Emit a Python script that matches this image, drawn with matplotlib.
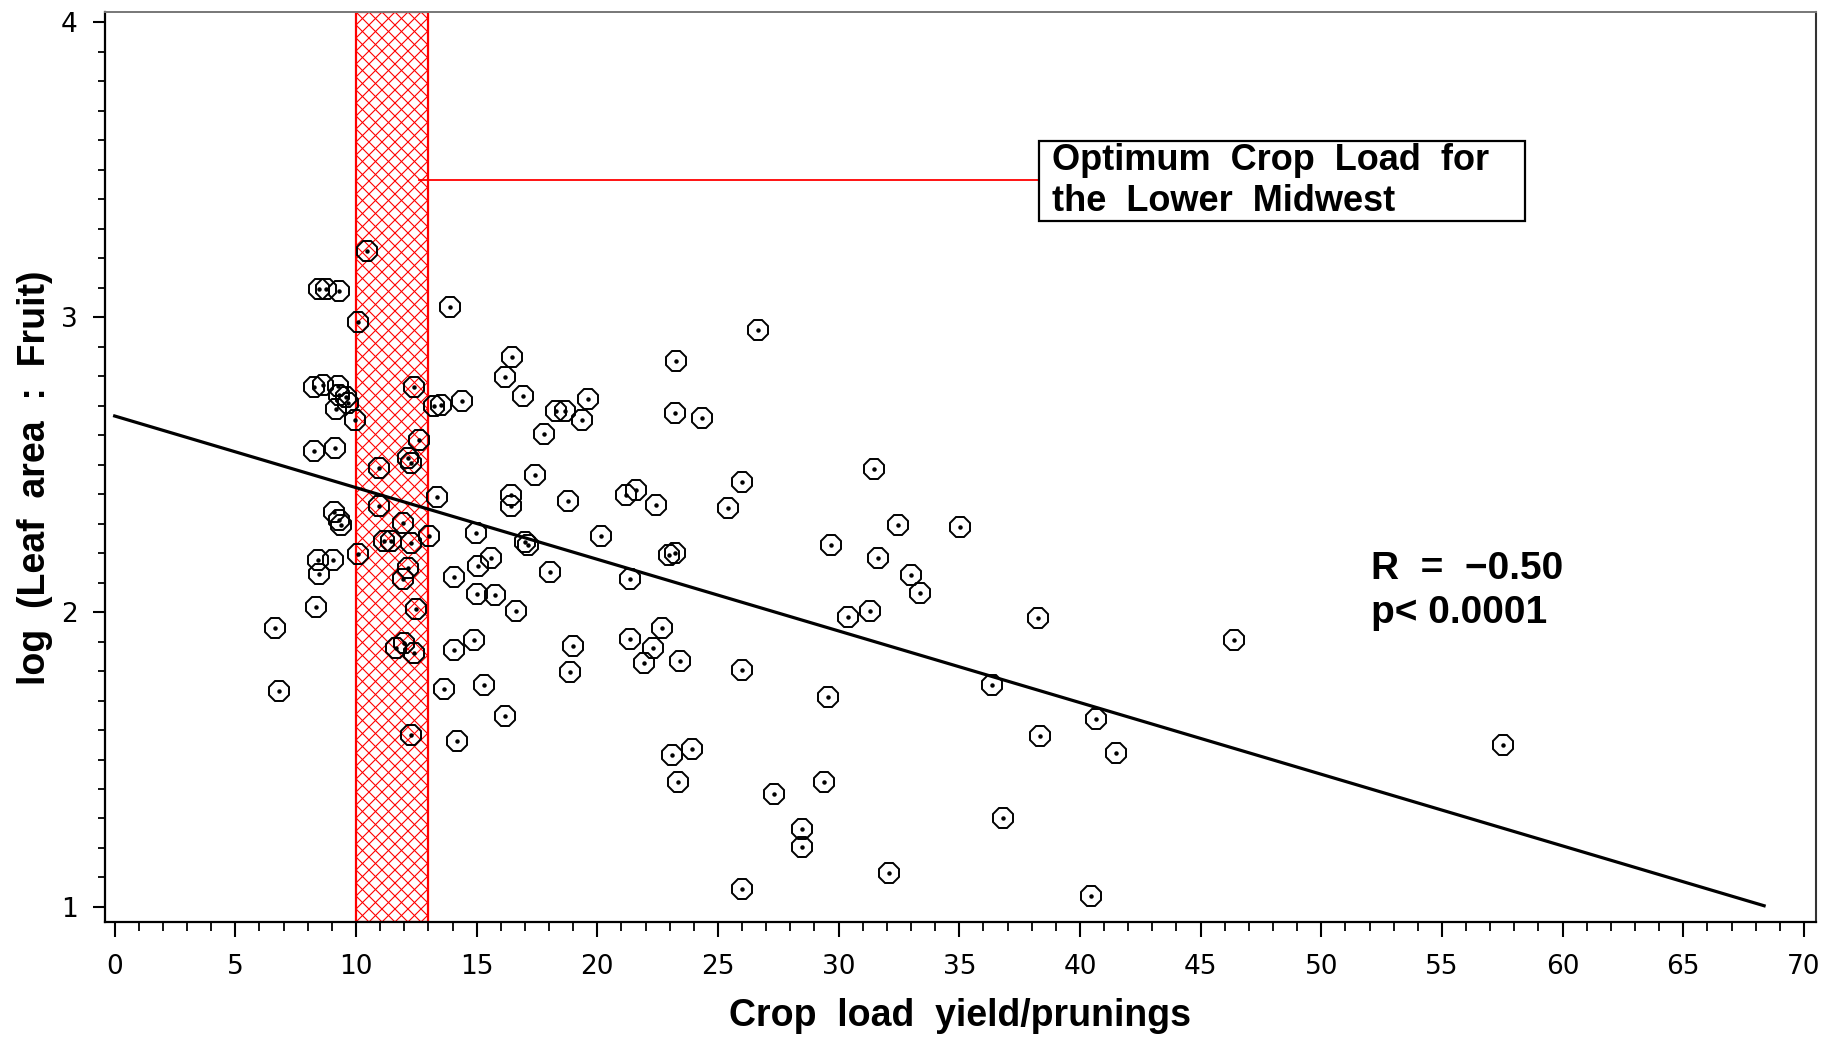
import numpy as np
import matplotlib
matplotlib.use("Agg")
import matplotlib.pyplot as plt
from matplotlib.ticker import MultipleLocator
from matplotlib.patches import Rectangle
from matplotlib.collections import LineCollection
from matplotlib.transforms import IdentityTransform

# crop load (yield/prunings) vs log(leaf area : fruit)
crop_load = [
    10.47, 8.48, 8.76, 9.31, 10.10, 13.91, 12.42, 8.27, 8.62, 9.27,
    9.31, 9.59, 9.66, 9.17, 9.96, 13.25, 13.52, 14.39, 12.62, 12.14,
    10.97, 12.28, 8.27, 9.13, 10.97, 13.36, 9.10, 9.31, 9.38, 11.93,
    14.97, 11.17, 11.45, 12.28, 13.04, 10.07, 8.41, 9.03, 8.48, 12.14,
    11.93, 14.07, 15.04, 15.60, 15.01, 15.75, 8.34, 12.49, 6.64, 14.07,
    14.88, 11.66, 12.00, 12.42, 6.82, 13.63, 15.29, 16.16, 12.28, 14.17,
    16.48, 16.16, 16.92, 17.78, 18.30, 18.65, 19.38, 19.62, 17.41, 16.44,
    16.44, 18.79, 16.99, 17.14, 18.03, 16.62, 20.17, 18.99, 18.86, 21.18,
    21.62, 22.45, 21.34, 22.99, 23.20, 23.25, 23.21, 24.34, 26.66, 26.00,
    25.42, 22.70, 21.34, 22.31, 21.92, 23.41, 26.00, 23.11, 23.93, 23.34,
    29.56, 29.40, 27.31, 28.48, 28.48, 26.00, 32.08, 40.44, 29.70, 31.47,
    31.63, 32.46, 31.29, 30.39, 32.98, 33.36, 35.05, 38.26, 36.37, 38.36,
    36.80, 40.68, 41.51, 46.39, 57.53,
]
log_leaf_fruit = [
    3.224, 3.094, 3.097, 3.089, 2.984, 3.033, 2.764, 2.764, 2.769, 2.766,
    2.736, 2.730, 2.708, 2.690, 2.651, 2.700, 2.702, 2.716, 2.583, 2.521,
    2.487, 2.504, 2.547, 2.558, 2.360, 2.391, 2.340, 2.312, 2.295, 2.301,
    2.267, 2.241, 2.241, 2.235, 2.258, 2.197, 2.176, 2.176, 2.129, 2.151,
    2.111, 2.120, 2.156, 2.185, 2.063, 2.059, 2.016, 2.009, 1.945, 1.871,
    1.907, 1.877, 1.894, 1.860, 1.733, 1.738, 1.753, 1.647, 1.583, 1.564,
    2.866, 2.796, 2.733, 2.603, 2.683, 2.683, 2.651, 2.721, 2.465, 2.397,
    2.360, 2.378, 2.238, 2.226, 2.137, 2.002, 2.259, 1.884, 1.796, 2.397,
    2.414, 2.363, 2.112, 2.194, 2.200, 2.852, 2.676, 2.659, 2.958, 2.440,
    2.352, 1.946, 1.909, 1.878, 1.827, 1.835, 1.805, 1.517, 1.534, 1.423,
    1.711, 1.423, 1.384, 1.266, 1.203, 1.060, 1.116, 1.038, 2.228, 2.484,
    2.183, 2.296, 2.002, 1.985, 2.126, 2.064, 2.290, 1.980, 1.754, 1.579,
    1.300, 1.638, 1.522, 1.904, 1.550,
]

# regression line as drawn
fit_intercept = 2.665
fit_slope = -0.0243
fit_x = [0, 68.35]

# optimum crop load band
band = [10, 13]
callout_y = 3.465
callout_start = 12.6
box_x = [38.29, 58.45]
box_y = [3.327, 3.597]

x_ticks = list(range(0, 75, 5))
y_ticks = [1, 2, 3, 4]

tick_font = ["Liberation Sans Narrow", "DejaVu Sans"]
bold_font = ["Liberation Sans", "DejaVu Sans"]

fig = plt.figure(figsize=(18.37, 10.40), dpi=100)
ax = fig.add_axes([105 / 1837, 118 / 1040, 1711 / 1837, 910 / 1040])

ax.set_xlim(-0.4, 70.5)
ax.set_ylim(0.949, 4.035)

# band with a red cross-hatch (drawn by hand, ~13 px spacing)
span = ax.axvspan(band[0], band[1], facecolor="white", edgecolor="red",
                  lw=1.6, zorder=1)
bx0, by0 = ax.transData.transform((band[0], ax.get_ylim()[0]))
bx1, by1 = ax.transData.transform((band[1], ax.get_ylim()[1]))
h = by1 - by0
segs = []
for c in np.arange(bx0 - h, bx1 + 13, 13):
    segs.append([(c, by0), (c + h, by1)])
    segs.append([(c + h, by0), (c, by1)])
hatch = LineCollection(segs, colors="red", linewidths=0.8,
                       transform=IdentityTransform(), zorder=1.5)
ax.add_collection(hatch, autolim=False)
hatch.set_clip_path(span)

# callout line + box
ax.plot([callout_start, box_x[0]], [callout_y, callout_y], color="red",
        lw=1.3, zorder=2)
ax.add_patch(Rectangle((box_x[0], box_y[0]), box_x[1] - box_x[0],
                       box_y[1] - box_y[0], facecolor="white",
                       edgecolor="black", lw=1.6, zorder=3))
ax.text(box_x[0] + 0.55, (box_y[0] + box_y[1]) / 2,
        "Optimum  Crop  Load  for\nthe  Lower  Midwest",
        family=bold_font, fontweight="bold", fontsize=26, ha="left",
        va="center", linespacing=1.24, zorder=4)

# regression line
fx = np.array(fit_x)
ax.plot(fx, fit_intercept + fit_slope * fx, color="black", lw=2.3, zorder=4)

# points: octagon with a dot in the middle
ax.plot(crop_load, log_leaf_fruit, linestyle="none", marker="8",
        markersize=16, markerfacecolor="none", markeredgecolor="black",
        markeredgewidth=1.4, zorder=5)
ax.plot(crop_load, log_leaf_fruit, linestyle="none", marker="o",
        markersize=2.2, color="black", zorder=6)

# stats text
ax.text(52.05, 2.113, "R  =  \u22120.50", family=bold_font,
        fontweight="bold", fontsize=28, ha="left", va="baseline")
ax.text(52.05, 1.963, "p< 0.0001", family=bold_font,
        fontweight="bold", fontsize=28, ha="left", va="baseline")

# axes / ticks
ax.set_xticks(x_ticks)
ax.set_yticks(y_ticks)
ax.xaxis.set_minor_locator(MultipleLocator(1))
ax.yaxis.set_minor_locator(MultipleLocator(0.1))
ax.tick_params(axis="x", which="major", length=11, width=1.5, pad=12,
               direction="out")
ax.tick_params(axis="x", which="minor", length=6.5, width=1.3,
               direction="out")
ax.tick_params(axis="y", which="major", length=8.5, width=1.5, pad=11,
               direction="out")
ax.tick_params(axis="y", which="minor", length=5, width=1.3,
               direction="out")
for lab in ax.get_xticklabels() + ax.get_yticklabels():
    lab.set_family(tick_font)
    lab.set_fontsize(19)

for side in ["left", "bottom"]:
    ax.spines[side].set_linewidth(1.6)
    ax.spines[side].set_color("black")
ax.spines["top"].set_linewidth(1.4)
ax.spines["top"].set_color("#777777")
ax.spines["right"].set_linewidth(1.5)
ax.spines["right"].set_color("#333333")

ax.set_xlabel("Crop  load  yield/prunings", family=bold_font,
              fontweight="bold", fontsize=27, va="center")
ax.xaxis.set_label_coords(0.5, -0.103)
ax.set_ylabel("log  (Leaf  area  :  Fruit)", family=bold_font,
              fontweight="bold", fontsize=27, va="center")
ax.yaxis.set_label_coords(-0.041, 0.488)

fig.savefig("out.png", dpi=100)
